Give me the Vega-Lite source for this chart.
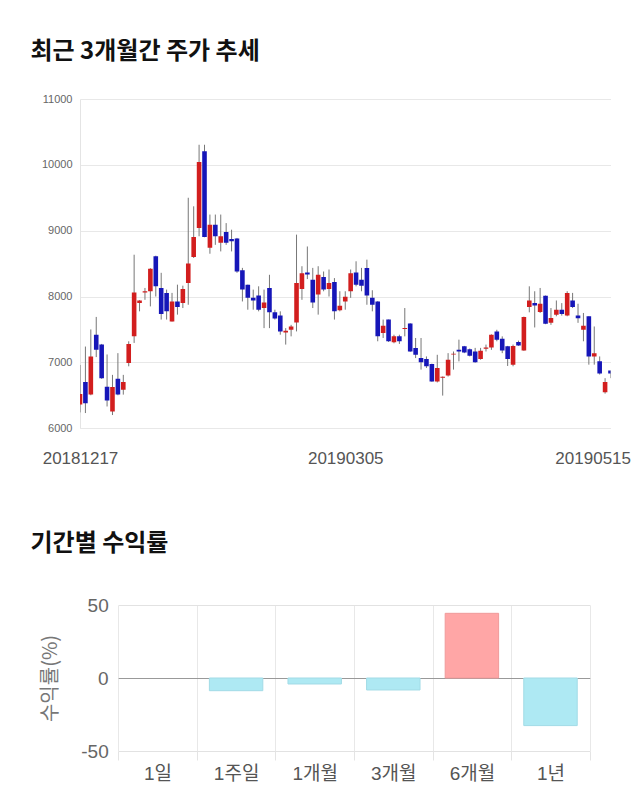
{
  "$schema": "https://vega.github.io/schema/vega-lite/v6.json",
  "background": "white",
  "padding": {"left": 30, "top": 40, "right": 0, "bottom": 0},
  "spacing": 65,
  "config": {
    "view": {"stroke": null},
    "font": "Liberation Sans, Noto Sans CJK KR",
    "title": {"font": "Noto Sans CJK KR", "fontSize": 24, "fontWeight": "bold", "color": "#111111", "anchor": "start", "frame": "group", "baseline": "alphabetic"}
  },
  "vconcat": [
    {
      "width": 530.5,
      "height": 329.2,
      "title": {"text": "최근 3개월간 주가 추세", "dx": -49.5, "offset": 29},
      "data": {
        "values": [
          {"date": "20181217", "open": 6360, "high": 6960, "low": 6240, "close": 6520},
          {"date": "20181218", "open": 6700, "high": 7240, "low": 6230, "close": 6380},
          {"date": "20181219", "open": 6510, "high": 7500, "low": 6500, "close": 7090},
          {"date": "20181220", "open": 7420, "high": 7690, "low": 7080, "close": 7190},
          {"date": "20181221", "open": 7270, "high": 7280, "low": 6750, "close": 6760},
          {"date": "20181224", "open": 6630, "high": 7120, "low": 6330, "close": 6420},
          {"date": "20181226", "open": 6255, "high": 6810, "low": 6200, "close": 6625},
          {"date": "20181227", "open": 6750, "high": 7140, "low": 6500, "close": 6510},
          {"date": "20181228", "open": 6585, "high": 6810, "low": 6510, "close": 6700},
          {"date": "20190102", "open": 6990, "high": 7320, "low": 6940, "close": 7280},
          {"date": "20190103", "open": 7395, "high": 8635, "low": 7295, "close": 8060},
          {"date": "20190104", "open": 7900, "high": 7945, "low": 7775, "close": 7940},
          {"date": "20190107", "open": 8060, "high": 8130, "low": 7950, "close": 8080},
          {"date": "20190108", "open": 8080, "high": 8430, "low": 7850, "close": 8420},
          {"date": "20190109", "open": 8610, "high": 8620, "low": 8000, "close": 8155},
          {"date": "20190110", "open": 8130, "high": 8360, "low": 7650, "close": 7735},
          {"date": "20190111", "open": 8055, "high": 8105, "low": 7650, "close": 7775},
          {"date": "20190114", "open": 7620, "high": 8055, "low": 7620, "close": 7925},
          {"date": "20190115", "open": 7925, "high": 8180, "low": 7725, "close": 7840},
          {"date": "20190116", "open": 7900, "high": 8165, "low": 7825, "close": 8115},
          {"date": "20190117", "open": 8205, "high": 9500, "low": 7875, "close": 8500},
          {"date": "20190118", "open": 8600, "high": 9370, "low": 8585, "close": 8905},
          {"date": "20190121", "open": 9040, "high": 10305, "low": 8915, "close": 10045},
          {"date": "20190122", "open": 10205, "high": 10305, "low": 8900, "close": 8905},
          {"date": "20190123", "open": 8740, "high": 9245, "low": 8650, "close": 9090},
          {"date": "20190124", "open": 9090, "high": 9245, "low": 8785, "close": 8915},
          {"date": "20190125", "open": 8815, "high": 9245, "low": 8685, "close": 8915},
          {"date": "20190128", "open": 8980, "high": 9115, "low": 8785, "close": 8815},
          {"date": "20190129", "open": 8875, "high": 9015, "low": 8685, "close": 8840},
          {"date": "20190130", "open": 8880, "high": 8890, "low": 8360, "close": 8380},
          {"date": "20190131", "open": 8400, "high": 8435, "low": 7925, "close": 8105},
          {"date": "20190201", "open": 8180, "high": 8180, "low": 7800, "close": 7980},
          {"date": "20190207", "open": 7980, "high": 8105, "low": 7800, "close": 7940},
          {"date": "20190208", "open": 8015, "high": 8155, "low": 7775, "close": 7800},
          {"date": "20190211", "open": 7825, "high": 8105, "low": 7520, "close": 7910},
          {"date": "20190212", "open": 8130, "high": 8330, "low": 7520, "close": 7760},
          {"date": "20190213", "open": 7760, "high": 7800, "low": 7650, "close": 7665},
          {"date": "20190214", "open": 7710, "high": 7775, "low": 7420, "close": 7470},
          {"date": "20190215", "open": 7455, "high": 7520, "low": 7270, "close": 7480},
          {"date": "20190218", "open": 7495, "high": 7570, "low": 7395, "close": 7545},
          {"date": "20190219", "open": 7605, "high": 8940, "low": 7470, "close": 8205},
          {"date": "20190220", "open": 8115, "high": 8460, "low": 7950, "close": 8355},
          {"date": "20190221", "open": 8365, "high": 8760, "low": 8265, "close": 8335},
          {"date": "20190222", "open": 8255, "high": 8435, "low": 7825, "close": 7910},
          {"date": "20190225", "open": 8030, "high": 8460, "low": 7725, "close": 8330},
          {"date": "20190226", "open": 8295, "high": 8380, "low": 8080, "close": 8105},
          {"date": "20190227", "open": 8115, "high": 8410, "low": 8000, "close": 8205},
          {"date": "20190228", "open": 8220, "high": 8280, "low": 7650, "close": 7775},
          {"date": "20190304", "open": 7790, "high": 8080, "low": 7775, "close": 7860},
          {"date": "20190305", "open": 7925, "high": 8080, "low": 7800, "close": 7995},
          {"date": "20190306", "open": 8080, "high": 8410, "low": 7980, "close": 8355},
          {"date": "20190307", "open": 8365, "high": 8535, "low": 8155, "close": 8180},
          {"date": "20190308", "open": 8255, "high": 8435, "low": 8080, "close": 8165},
          {"date": "20190311", "open": 8435, "high": 8560, "low": 7875, "close": 8015},
          {"date": "20190312", "open": 7980, "high": 8095, "low": 7775, "close": 7875},
          {"date": "20190313", "open": 7925, "high": 7930, "low": 7320, "close": 7395},
          {"date": "20190314", "open": 7445, "high": 7650, "low": 7370, "close": 7555},
          {"date": "20190315", "open": 7650, "high": 7650, "low": 7310, "close": 7320},
          {"date": "20190318", "open": 7305, "high": 7420, "low": 7290, "close": 7395},
          {"date": "20190319", "open": 7395, "high": 7420, "low": 7280, "close": 7320},
          {"date": "20190320", "open": 7505, "high": 7825, "low": 7395, "close": 7520},
          {"date": "20190321", "open": 7590, "high": 7595, "low": 7160, "close": 7165},
          {"date": "20190322", "open": 7220, "high": 7370, "low": 7065, "close": 7115},
          {"date": "20190325", "open": 7065, "high": 7370, "low": 6890, "close": 7000},
          {"date": "20190326", "open": 7050, "high": 7090, "low": 6915, "close": 6940},
          {"date": "20190327", "open": 6975, "high": 6980, "low": 6705, "close": 6710},
          {"date": "20190328", "open": 6710, "high": 7115, "low": 6695, "close": 6915},
          {"date": "20190329", "open": 6765, "high": 6785, "low": 6495, "close": 6780},
          {"date": "20190401", "open": 6800, "high": 7140, "low": 6785, "close": 7040},
          {"date": "20190402", "open": 7120, "high": 7165, "low": 6890, "close": 7130},
          {"date": "20190403", "open": 7190, "high": 7345, "low": 7015, "close": 7165},
          {"date": "20190404", "open": 7245, "high": 7250, "low": 7140, "close": 7150},
          {"date": "20190405", "open": 7200, "high": 7210, "low": 7090, "close": 7100},
          {"date": "20190408", "open": 7165, "high": 7220, "low": 6995, "close": 7000},
          {"date": "20190409", "open": 7050, "high": 7220, "low": 7040, "close": 7175},
          {"date": "20190410", "open": 7205, "high": 7270, "low": 7165, "close": 7225},
          {"date": "20190411", "open": 7225, "high": 7425, "low": 7190, "close": 7420},
          {"date": "20190412", "open": 7470, "high": 7495, "low": 7320, "close": 7345},
          {"date": "20190415", "open": 7360, "high": 7395, "low": 7140, "close": 7180},
          {"date": "20190416", "open": 7245, "high": 7250, "low": 6945, "close": 7050},
          {"date": "20190417", "open": 6965, "high": 7270, "low": 6940, "close": 7250},
          {"date": "20190418", "open": 7310, "high": 7330, "low": 7250, "close": 7255},
          {"date": "20190419", "open": 7180, "high": 7695, "low": 7175, "close": 7690},
          {"date": "20190422", "open": 7840, "high": 8155, "low": 7760, "close": 7940},
          {"date": "20190423", "open": 7900, "high": 8080, "low": 7530, "close": 7865},
          {"date": "20190424", "open": 7765, "high": 8130, "low": 7750, "close": 7890},
          {"date": "20190425", "open": 8010, "high": 8015, "low": 7580, "close": 7585},
          {"date": "20190426", "open": 7600, "high": 7825, "low": 7570, "close": 7675},
          {"date": "20190429", "open": 7725, "high": 7940, "low": 7700, "close": 7800},
          {"date": "20190430", "open": 7800, "high": 7900, "low": 7710, "close": 7735},
          {"date": "20190502", "open": 7710, "high": 8080, "low": 7700, "close": 8055},
          {"date": "20190503", "open": 7940, "high": 8055, "low": 7825, "close": 7840},
          {"date": "20190507", "open": 7710, "high": 7890, "low": 7600, "close": 7670},
          {"date": "20190508", "open": 7495, "high": 7750, "low": 7320, "close": 7555},
          {"date": "20190509", "open": 7700, "high": 7700, "low": 6965, "close": 7090},
          {"date": "20190510", "open": 7090, "high": 7545, "low": 6965, "close": 7140},
          {"date": "20190513", "open": 7015, "high": 7090, "low": 6815, "close": 6830},
          {"date": "20190514", "open": 6545, "high": 6760, "low": 6525, "close": 6700},
          {"date": "20190515", "open": 6875, "high": 6875, "low": 6760, "close": 6830}
        ]
      },
      "encoding": {
        "x": {
          "field": "date",
          "type": "ordinal",
          "scale": {"type": "point", "padding": 0},
          "axis": {
            "values": ["20181217", "20190305", "20190515"],
            "title": null,
            "labelAngle": 0,
            "labelFontSize": 17,
            "labelColor": "#555555",
            "labelPadding": 22,
            "labelAlign": {"condition": {"test": "datum.value == '20190515'", "value": "right"}, "value": "center"},
            "labelOffset": {"condition": {"test": "datum.value == '20190515'", "value": 20}, "value": 0},
            "ticks": false,
            "domain": false,
            "grid": false
          }
        }
      },
      "layer": [
        {
          "mark": {"type": "rule", "color": "#777777", "strokeWidth": 1, "clip": true},
          "encoding": {
            "y": {
              "field": "low",
              "type": "quantitative",
              "scale": {"domain": [6000, 11000], "nice": false, "zero": false},
              "axis": {
                "title": null,
                "format": "d",
                "values": [6000, 6500, 7000, 7500, 8000, 8500, 9000, 9500, 10000, 10500, 11000],
                "labelFontSize": 11,
                "labelColor": "#666666",
                "labelPadding": 8,
                "labelFlush": false,
                "ticks": false,
                "domain": true,
                "domainColor": "#e4e4e4",
                "gridColor": "#e8e8e8"
              }
            },
            "y2": {"field": "high"}
          }
        },
        {
          "mark": {"type": "bar", "width": 4.6, "clip": true},
          "encoding": {
            "y": {"field": "open", "type": "quantitative"},
            "y2": {"field": "close"},
            "color": {"condition": {"test": "datum.close >= datum.open", "value": "#d21e1e"}, "value": "#1616b8"}
          }
        }
      ]
    },
    {
      "width": 509.8,
      "height": 146,
      "title": {"text": "기간별 수익률", "dx": -49.5, "offset": 40},
      "data": {
        "values": [
          {"period": "1일", "value": 0},
          {"period": "1주일", "value": -8.7},
          {"period": "1개월", "value": -4.1},
          {"period": "3개월", "value": -8.2},
          {"period": "6개월", "value": 44.3},
          {"period": "1년", "value": -32.6}
        ]
      },
      "mark": {"type": "bar", "width": {"band": 0.68}, "strokeWidth": 1},
      "encoding": {
        "x": {
          "field": "period",
          "type": "nominal",
          "sort": ["1일", "1주일", "1개월", "3개월", "6개월", "1년"],
          "scale": {"paddingInner": 0, "paddingOuter": 0, "range": [38.2, 509.8]},
          "axis": {
            "title": null,
            "labelAngle": 0,
            "labelFontSize": 19,
            "labelColor": "#555555",
            "labelPadding": 4,
            "tickBand": "extent",
            "ticks": true,
            "tickSize": 9,
            "tickColor": "#e4e4e4",
            "grid": true,
            "gridColor": "#e8e8e8",
            "domain": false
          }
        },
        "y": {
          "field": "value",
          "type": "quantitative",
          "scale": {"domain": [-50, 50], "nice": false},
          "axis": {
            "title": "수익률(%)",
            "titleFont": "Noto Sans CJK KR",
            "titleFontSize": 20,
            "titleFontWeight": "normal",
            "titleColor": "#777777",
            "titlePadding": 20,
            "offset": -38.2,
            "values": [-50, 0, 50],
            "labelExpr": "'' + datum.value",
            "labelFontSize": 19,
            "labelColor": "#666666",
            "labelPadding": 10,
            "labelFlush": false,
            "ticks": false,
            "domain": false,
            "gridColor": {"condition": {"test": "datum.value == 0", "value": "#999999"}, "value": "#e2e2e2"}
          }
        },
        "color": {"condition": {"test": "datum.value > 0", "value": "#ffa6a6"}, "value": "#aee9f3"},
        "stroke": {"condition": [{"test": "datum.value == 0", "value": "transparent"}, {"test": "datum.value > 0", "value": "#f09a9a"}], "value": "#a2dbe6"}
      }
    }
  ]
}
